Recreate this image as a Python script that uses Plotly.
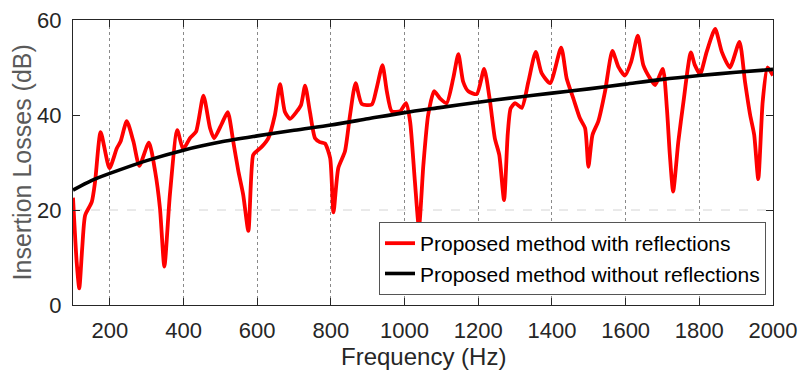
import plotly.graph_objects as go

# Frequency (Hz) and insertion loss (dB)
freq_refl = [100, 110, 117, 125, 133, 151, 160, 175, 199, 219, 229, 246, 264, 280, 306, 323, 336, 348, 363,
             383, 399, 418, 434, 454, 472, 483, 504, 520, 535, 549, 562, 576, 589, 599, 612, 630, 648,
             662, 675, 689, 707, 719, 730, 743, 757, 770, 784, 798, 807, 820, 838, 852, 867, 884, 911,
             924, 940, 952, 965, 988, 1004, 1015, 1028, 1039, 1051, 1064, 1080, 1096, 1114, 1132, 1146,
             1159, 1173, 1196, 1216, 1232, 1245, 1257, 1270, 1280, 1288, 1300, 1318, 1336, 1356, 1372,
             1395, 1425, 1440, 1458, 1476, 1490, 1499, 1510, 1526, 1544, 1564, 1580, 1598, 1615, 1633,
             1648, 1668, 1680, 1701, 1712, 1720, 1729, 1743, 1757, 1777, 1788, 1802, 1820, 1843, 1861,
             1883, 1909, 1924, 1938, 1949, 1960, 1972, 1985, 2000]
il_refl = [22.6, 9.0, 3.5, 12.0, 18.9, 21.7, 26.0, 36.4, 28.8, 33.0, 34.4, 38.7, 34.4, 29.3, 34.2, 28.1, 20.4, 8.1, 23.2,
           36.8, 32.8, 35.2, 36.5, 44.1, 37.2, 35.1, 38.2, 40.6, 34.4, 28.1, 23.2, 15.6, 31.6, 32.4, 33.3, 35.1, 40.0,
           46.5, 40.7, 39.2, 40.7, 42.1, 46.2, 40.7, 35.1, 34.3, 34.0, 30.9, 19.5, 28.8, 32.3, 40.0, 46.7, 42.3, 42.2,
           45.6, 50.5, 44.9, 40.8, 40.8, 42.5, 38.6, 26.0, 16.3, 29.5, 40.0, 45.0, 43.5, 42.5, 47.7, 52.8,
           47.0, 45.0, 44.4, 49.7, 42.8, 35.1, 31.6, 22.1, 36.0, 41.4, 42.5, 41.5, 47.0, 53.3, 48.8,
           46.7, 54.2, 47.7, 43.5, 39.3, 37.2, 29.1, 35.8, 38.7, 44.9, 53.5, 50.2, 48.3, 51.2, 56.7,
           50.5, 47.5, 46.3, 49.7, 41.4, 31.6, 23.9, 34.4, 42.8, 53.2, 50.5, 48.6, 53.3, 58.1, 53.3,
           50.0, 55.4, 47.0, 40.0, 35.8, 26.5, 42.8, 50.0, 48.3]

freq_free = [100, 150, 200, 300, 400, 500, 600, 700, 800, 900, 1000, 1100, 1200, 1300, 1400, 1500,
             1600, 1700, 1800, 1900, 2000]
il_free = [24.2, 26.2, 27.7, 30.4, 32.6, 34.3, 35.6, 36.8, 37.9, 39.2, 40.5, 41.6, 42.7, 43.7, 44.6, 45.5,
           46.5, 47.5, 48.3, 49.0, 49.6]

x_ticks = [200, 400, 600, 800, 1000, 1200, 1400, 1600, 1800, 2000]
y_ticks = [0, 20, 40, 60]
series_names = ["Proposed method with reflections", "Proposed method without reflections"]
x_title = "Frequency (Hz)"
y_title = "Insertion Losses (dB)"

dark = "#262626"
fig = go.Figure()
fig.add_trace(go.Scatter(x=freq_refl, y=il_refl, mode="lines", name=series_names[0],
                         line=dict(color="#ff0000", width=3.8, shape="spline", smoothing=0.6)))
fig.add_trace(go.Scatter(x=freq_free, y=il_free, mode="lines", name=series_names[1],
                         line=dict(color="#000000", width=3.6, shape="spline", smoothing=0.8)))

fig.add_hline(y=20, line=dict(color="#d4d4d4", width=1, dash="dash"), layer="below")

# Axis titles placed as annotations for precise positioning
fig.add_annotation(text=x_title, xref="paper", yref="paper", x=0.5, y=-0.18,
                   xanchor="center", yanchor="middle", showarrow=False,
                   font=dict(size=24, color=dark))
fig.add_annotation(text=y_title, xref="paper", yref="paper", x=-0.073, y=0.5,
                   xanchor="center", yanchor="middle", textangle=-90, showarrow=False,
                   font=dict(size=25, color="#5a5a5a"))

fig.update_layout(
    width=802, height=374,
    margin=dict(l=73, r=29, t=20, b=69),
    paper_bgcolor="white", plot_bgcolor="white",
    font=dict(family="Liberation Sans, Arial, sans-serif", color=dark),
    showlegend=True,
    legend=dict(x=0.99, y=0.035, xanchor="right", yanchor="bottom",
                bgcolor="white", bordercolor="#555555", borderwidth=1,
                font=dict(size=21, color="#000000"), tracegroupgap=0,
                itemwidth=30),
    xaxis=dict(range=[100, 2000], tickvals=x_ticks, ticks="inside", ticklen=7, tickcolor=dark,
               showline=True, linecolor=dark, linewidth=1, mirror="ticks", automargin=False,
               showgrid=True, gridcolor="#8a8a8a", griddash="dot", gridwidth=1, zeroline=False,
               tickfont=dict(size=22, color=dark), ticklabelstandoff=6),
    yaxis=dict(range=[0, 60], tickvals=y_ticks, ticks="inside", ticklen=7, tickcolor=dark,
               showline=True, linecolor=dark, linewidth=1, mirror="ticks", automargin=False,
               showgrid=False, zeroline=False,
               tickfont=dict(size=22, color=dark), ticklabelstandoff=6),
)

fig.write_html("out.html")
